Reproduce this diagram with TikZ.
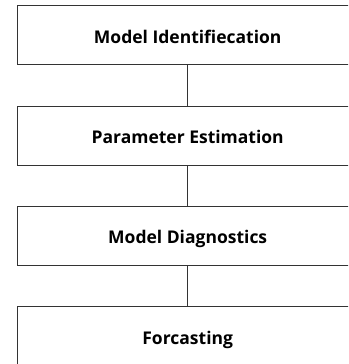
\documentclass[tikz,border=0pt]{standalone}
\usepackage{fontspec}
\setmainfont{Open Sans}
\begin{document}
\begin{tikzpicture}[x=1pt,y=-1pt,
  stagebox/.style={draw=black!80, line width=1.3pt, minimum width=340pt, minimum height=59pt, inner sep=0pt, text height=16pt, text depth=0pt, font=\bfseries\fontsize{17.5}{19}\selectfont, text=black},
  link/.style={draw=black!80, line width=1.3pt}]
\useasboundingbox (0,0) rectangle (348,364);
\clip (0,0) rectangle (348,364);
\node[stagebox] (a) at (187.7,35) {Model Identifiecation};
\node[stagebox] (b) at (187.7,135.8) {Parameter Estimation};
\node[stagebox] (c) at (187.7,235.8) {Model Diagnostics};
\node[stagebox] (d) at (187.7,336.2) {Forcasting};
\draw[link] (a.south) -- (b.north);
\draw[link] (b.south) -- (c.north);
\draw[link] (c.south) -- (d.north);
\end{tikzpicture}
\end{document}
